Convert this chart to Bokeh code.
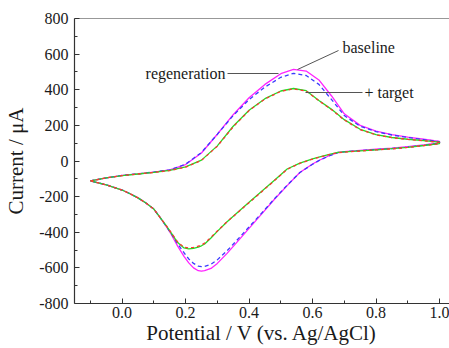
from bokeh.plotting import figure
from bokeh.models import (Range1d, FixedTicker, CustomJSTickFormatter, Span, Label)
from bokeh.embed import file_html
from bokeh.resources import INLINE

# ---------------- data ----------------
# forward (anodic) sweep potentials, V
x_fwd = [-0.1, -0.05, 0.0, 0.05, 0.1, 0.15, 0.2, 0.25, 0.3, 0.35, 0.4, 0.45,
         0.5, 0.54, 0.58, 0.62, 0.66, 0.7, 0.75, 0.8, 0.85, 0.9, 0.95, 1.0]
# reverse (cathodic) sweep potentials, V
x_rev = [1.0, 0.95, 0.9, 0.85, 0.8, 0.75, 0.7, 0.68, 0.65, 0.62, 0.6, 0.56,
         0.52, 0.48, 0.44, 0.4, 0.36, 0.33, 0.3, 0.28, 0.26, 0.25, 0.24, 0.225,
         0.21, 0.195, 0.175, 0.155, 0.14, 0.12, 0.1, 0.075, 0.05, 0.025, 0.0,
         -0.05, -0.1]

# currents, uA
baseline_fwd = [-112, -95, -81, -72, -62, -50, -20, 45, 150, 260, 355, 430,
                490, 514, 505, 455, 365, 265, 200, 168, 148, 134, 122, 110]
baseline_rev = [102, 90, 80, 72, 66, 60, 53, 48, 28, 3, -17, -65,
                -138, -215, -297, -378, -460, -520, -575, -603, -616, -618, -616, -600,
                -572, -535, -478, -412, -370, -318, -270, -236, -207, -184, -163,
                -134, -112]

regen_fwd = [-112, -95, -81, -72, -62, -50, -18, 48, 150, 255, 345, 415,
             470, 492, 480, 430, 345, 255, 195, 165, 146, 132, 120, 108]
regen_rev = [100, 88, 78, 70, 64, 58, 52, 47, 27, 2, -18, -65,
             -136, -212, -292, -370, -448, -505, -555, -580, -592, -593, -590, -575,
             -550, -515, -465, -408, -369, -318, -270, -236, -207, -184, -163,
             -134, -112]

target_fwd = [-112, -95, -82, -73, -64, -53, -33, 5, 85, 195, 285, 350,
              393, 407, 395, 340, 290, 232, 178, 148, 132, 122, 114, 106]
target_rev = [98, 87, 77, 69, 63, 57, 51, 48, 36, 22, 12, -12,
              -45, -108, -170, -232, -295, -342, -395, -432, -466, -476, -483, -490,
              -493, -488, -458, -405, -366, -318, -270, -236, -207, -184, -163,
              -134, -112]

target2_fwd = [-112, -95, -82, -73, -64, -54, -34, 3, 83, 192, 283, 348,
               391, 405, 393, 338, 288, 230, 176, 147, 131, 121, 113, 105]
target2_rev = [97, 86, 76, 68, 62, 56, 50, 47, 35, 21, 11, -13,
               -47, -110, -172, -234, -296, -342, -393, -428, -461, -471, -478, -485,
               -488, -484, -455, -403, -365, -318, -270, -236, -207, -184, -163,
               -134, -112]

x_ticks = [0.0, 0.2, 0.4, 0.6, 0.8, 1.0]
x_minor = [-0.1, 0.1, 0.3, 0.5, 0.7, 0.9]
y_ticks = [-800, -600, -400, -200, 0, 200, 400, 600, 800]
y_minor = [-700, -500, -300, -100, 100, 300, 500, 700]

# ---------------- figure ----------------
FONT = "Liberation Serif"
X0, X1 = -0.15, 1.0315
Y0, Y1 = -800, 800

p = figure(width=449, height=348, output_backend="svg", toolbar_location=None,
           x_range=Range1d(X0, X1), y_range=Range1d(Y0, Y1),
           min_border_left=74, min_border_right=0, min_border_top=18,
           min_border_bottom=45)
p.outline_line_color = None
p.grid.grid_line_color = None
p.background_fill_color = "white"

# frame geometry in page pixels (for placing annotations)
FL, FR, FT, FB = 74, 449, 18, 303
def px_x(px):
    return X0 + (px - FL) * (X1 - X0) / (FR - FL)
def px_y(py):
    return Y1 - (py - FT) * (Y1 - Y0) / (FB - FT)

p.axis.axis_line_color = "#333333"
p.axis.axis_line_width = 1.2
p.axis.major_tick_line_color = "#333333"
p.axis.minor_tick_line_color = "#333333"
p.axis.major_tick_in = 5
p.axis.major_tick_out = 0
p.axis.minor_tick_in = 3
p.axis.minor_tick_out = 0
p.axis.major_label_text_font = FONT
p.axis.major_label_text_font_size = "16px"
p.axis.major_label_text_color = "#1a1a1a"
p.axis.axis_label_text_font = FONT
p.axis.axis_label_text_font_size = "21px"
p.axis.axis_label_text_font_style = "normal"
p.axis.axis_label_text_color = "#1a1a1a"

p.xaxis.ticker = FixedTicker(ticks=x_ticks, minor_ticks=x_minor)
p.yaxis.ticker = FixedTicker(ticks=y_ticks, minor_ticks=y_minor)
p.xaxis.formatter = CustomJSTickFormatter(code="return tick.toFixed(1);")
p.yaxis.formatter = CustomJSTickFormatter(code="return tick.toFixed(0);")
p.xaxis.major_label_standoff = 3
p.yaxis.major_label_standoff = 6

p.yaxis.axis_label = "Current / \u03bcA"
p.yaxis.axis_label_standoff = 8
p.xaxis.axis_label = "Potential / V (vs. Ag/AgCl)"
p.xaxis.axis_label_standoff = 0

# top frame line
p.add_layout(Span(location=Y1, dimension="width", line_color="#333333", line_width=1.2))

# ---------------- curves ----------------
p.line(x_fwd + x_rev, baseline_fwd + baseline_rev, line_color="#ff22ff", line_width=1.3)
p.line(x_fwd + x_rev, regen_fwd + regen_rev, line_color="#3a3aff", line_width=1.3,
       line_dash="4 3")
p.line(x_fwd + x_rev, target_fwd + target_rev, line_color="#22dd22", line_width=1.3)
p.line(x_fwd + x_rev, target2_fwd + target2_rev, line_color="#ff3333", line_width=1.3,
       line_dash="3 3")

# ---------------- annotations ----------------
lead = dict(line_color="#555555", line_width=1)
p.segment(x0=[px_x(297)], y0=[px_y(69)], x1=[px_x(338)], y1=[px_y(50)], **lead)
p.segment(x0=[px_x(227)], y0=[px_y(73)], x1=[px_x(278)], y1=[px_y(73)], **lead)
p.segment(x0=[px_x(305)], y0=[px_y(92)], x1=[px_x(362)], y1=[px_y(92)], **lead)

txt = dict(text_font=FONT, text_font_size="16px", text_color="#1a1a1a",
           text_baseline="middle")
p.add_layout(Label(x=px_x(342), y=px_y(47), text="baseline", text_align="left", **txt))
p.add_layout(Label(x=px_x(225), y=px_y(73), text="regeneration", text_align="right", **txt))
p.add_layout(Label(x=px_x(364), y=px_y(92), text="+ target", text_align="left", **txt))

open("out.html", "w").write(file_html(p, INLINE))
